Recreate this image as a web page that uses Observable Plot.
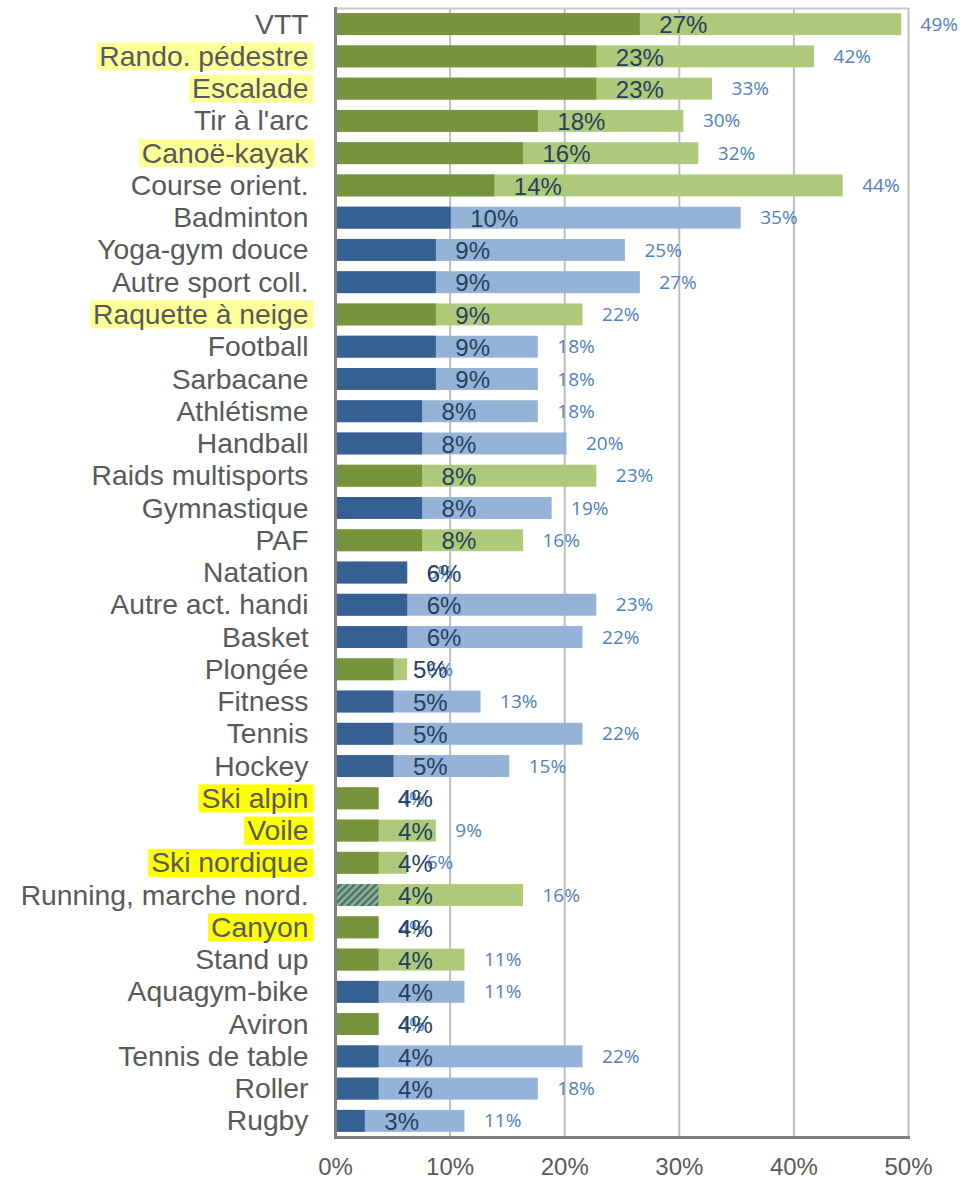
<!DOCTYPE html>
<html>
<head>
<meta charset="utf-8">
<script src="https://cdn.jsdelivr.net/npm/d3@7"></script>
<script src="https://cdn.jsdelivr.net/npm/@observablehq/plot@0.6"></script>
<style>
  html, body { margin: 0; padding: 0; background: #ffffff; }
  #chart { width: 980px; height: 1179px; }
</style>
</head>
<body>
<div id="chart"></div>
<script>
const categories = [
  "VTT", "Rando. pédestre", "Escalade", "Tir à l'arc", "Canoë-kayak", "Course orient.",
  "Badminton", "Yoga-gym douce", "Autre sport coll.", "Raquette à neige", "Football",
  "Sarbacane", "Athlétisme", "Handball", "Raids multisports", "Gymnastique", "PAF",
  "Natation", "Autre act. handi", "Basket", "Plongée", "Fitness", "Tennis", "Hockey",
  "Ski alpin", "Voile", "Ski nordique", "Running, marche nord.", "Canyon", "Stand up",
  "Aquagym-bike", "Aviron", "Tennis de table", "Roller", "Rugby"
];
const firstValues = [
  26.6, 22.8, 22.8, 17.7, 16.4, 13.9,
  10.1, 8.8, 8.8, 8.8, 8.8,
  8.8, 7.6, 7.6, 7.6, 7.6, 7.6,
  6.3, 6.3, 6.3, 5.1, 5.1, 5.1, 5.1,
  3.8, 3.8, 3.8, 3.8, 3.8, 3.8,
  3.8, 3.8, 3.8, 3.8, 2.6
];
const totalValues = [
  49.4, 41.8, 32.9, 30.4, 31.7, 44.3,
  35.4, 25.3, 26.6, 21.6, 17.7,
  17.7, 17.7, 20.2, 22.8, 18.9, 16.4,
  6.3, 22.8, 21.6, 6.3, 12.7, 21.6, 15.2,
  3.8, 8.8, 6.3, 16.4, 3.8, 11.3,
  11.3, 3.8, 21.6, 17.7, 11.3
];
const groups = [
  "nature", "nature", "nature", "nature", "nature", "nature",
  "autre", "autre", "autre", "nature", "autre",
  "autre", "autre", "autre", "nature", "autre", "nature",
  "autre", "autre", "autre", "nature", "autre", "autre", "autre",
  "nature", "nature", "nature", "mixte", "nature", "nature",
  "autre", "nature", "autre", "autre", "autre"
];
const highlightSoft = ["Rando. pédestre", "Escalade", "Canoë-kayak", "Raquette à neige"];
const highlightStrong = ["Ski alpin", "Voile", "Ski nordique", "Canyon"];
const xTicks = [0, 10, 20, 30, 40, 50];

const darkColor = {nature: "#77933C", autre: "#376092", mixte: "url(#hatchRun)"};
const lightColor = {nature: "#AFC97A", autre: "#95B3D7", mixte: "#AFC97A"};

const data = categories.map((c, i) => ({
  cat: c, first: firstValues[i], total: totalValues[i], group: groups[i]
}));

const fmt = v => Math.round(v) + "%";

function patternDefs() {
  const ns = "http://www.w3.org/2000/svg";
  const g = document.createElementNS(ns, "g");
  const defs = document.createElementNS(ns, "defs");
  const p = document.createElementNS(ns, "pattern");
  p.setAttribute("id", "hatchRun");
  p.setAttribute("patternUnits", "userSpaceOnUse");
  p.setAttribute("width", "5");
  p.setAttribute("height", "5");
  p.setAttribute("patternTransform", "rotate(45)");
  const bg = document.createElementNS(ns, "rect");
  bg.setAttribute("width", "5"); bg.setAttribute("height", "5"); bg.setAttribute("fill", "#9DBA62");
  const st = document.createElementNS(ns, "rect");
  st.setAttribute("width", "2.5"); st.setAttribute("height", "5"); st.setAttribute("fill", "#3F6A9E");
  p.appendChild(bg); p.appendChild(st);
  defs.appendChild(p);
  g.appendChild(defs);
  return g;
}

const font = "'Liberation Sans', Arial, sans-serif";

const chart = Plot.plot({
  width: 980,
  height: 1179,
  marginLeft: 335,
  marginRight: 72,
  marginTop: 8,
  marginBottom: 42,
  style: {background: "#ffffff", color: "#595959", fontFamily: font},
  x: {domain: [0, 50], label: null},
  y: {domain: categories, paddingInner: 0.32, paddingOuter: 0.16, round: false, label: null},
  color: {type: "identity"},
  marks: [
    patternDefs,
    Plot.ruleX(xTicks.slice(1), {stroke: "#BFBFBF", strokeWidth: 2}),
    Plot.frame({anchor: "top", stroke: "#C8C8C8", strokeWidth: 2}),
    Plot.barX(data, {x: "total", y: "cat", fill: d => lightColor[d.group]}),
    Plot.barX(data, {x: "first", y: "cat", fill: d => darkColor[d.group]}),
    Plot.frame({anchor: "left", stroke: "#7F7F7F", strokeWidth: 3}),
    Plot.frame({anchor: "bottom", stroke: "#7F7F7F", strokeWidth: 3}),
    Plot.text(data, {
      x: "total", y: "cat", text: d => fmt(d.total), dx: 19, textAnchor: "start",
      fill: "#4F81BD", fontSize: 19, fontFamily: "'Open Sans', sans-serif"
    }),
    Plot.text(data, {
      x: "first", y: "cat", text: d => fmt(d.first), dx: 19, dy: 1, textAnchor: "start",
      fill: "#243F60", fontSize: 24, fontFamily: font
    }),
    Plot.axisX({ticks: xTicks, tickFormat: d => d + "%", tickSize: 0, tickPadding: 20, fontSize: 24, fill: "#595959", label: null}),
    Plot.axisY({tickSize: 0, tickPadding: 27, fontSize: 28.3, fill: "#595959", label: null})
  ]
});

document.getElementById("chart").appendChild(chart);

// highlight backgrounds behind selected category labels
const svgEl = chart.tagName.toLowerCase() === "svg" ? chart : chart.querySelector("svg");
svgEl.querySelectorAll('g[aria-label="y-axis tick label"] text').forEach(t => {
  const label = t.textContent;
  let col = null;
  if (highlightSoft.includes(label)) col = "#FFFF99";
  if (highlightStrong.includes(label)) col = "#FFFF00";
  if (!col) return;
  const b = t.getBBox();
  const r = document.createElementNS("http://www.w3.org/2000/svg", "rect");
  r.setAttribute("x", b.x - 3);
  r.setAttribute("y", b.y + 2.5);
  r.setAttribute("width", b.width + 8);
  r.setAttribute("height", b.height - 4);
  r.setAttribute("fill", col);
  if (t.getAttribute("transform")) r.setAttribute("transform", t.getAttribute("transform"));
  t.parentNode.insertBefore(r, t);
});
</script>
</body>
</html>
